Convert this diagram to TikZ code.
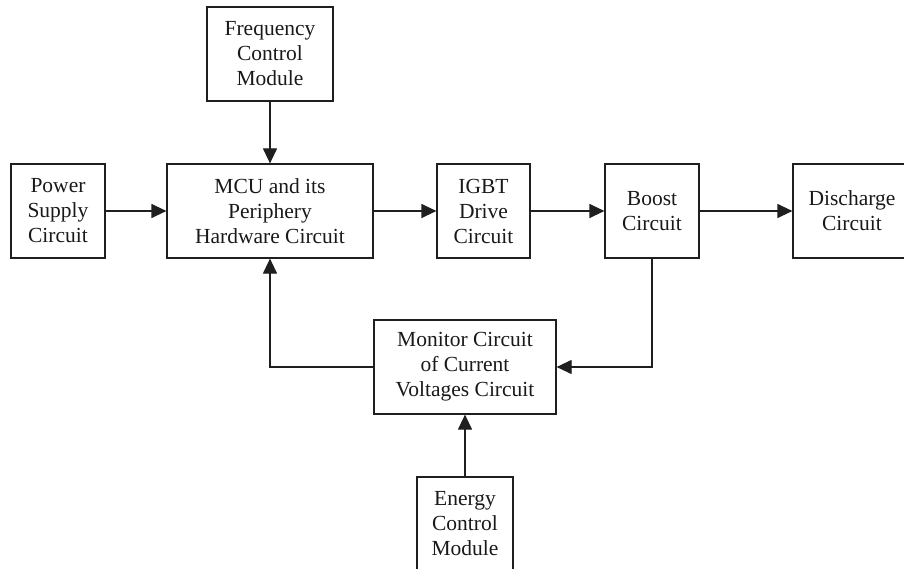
\documentclass[tikz,border=0pt]{standalone}
\usepackage{fontspec}
\setmainfont{Liberation Serif}
\usetikzlibrary{arrows.meta,positioning}
\begin{document}
\begin{tikzpicture}[x=1pt,y=-1pt,
  blk/.style={draw=black!88,line width=1.2pt,align=center,inner sep=0pt,
    font=\fontsize{21.5}{25}\selectfont,text=black!90},
  conn/.style={draw=black!88,line width=1.2pt,-{Triangle[length=15pt,width=14pt]}}]
\useasboundingbox (0,0) rectangle (904,569);
\clip (0,0) rectangle (904,569);
\node[blk,minimum width=126pt,minimum height=94pt] (freq) at (270,54) {Frequency\\Control\\Module};
\node[blk,minimum width=94pt,minimum height=94pt] (power) at (58,211) {Power\\Supply\\Circuit};
\node[blk,minimum width=206pt,minimum height=94pt] (mcu) at (270,211) {MCU and its\\Periphery\\Hardware Circuit};
\node[blk,minimum width=93pt,minimum height=94pt] (igbt) at (483.5,211) {IGBT\\Drive\\Circuit};
\node[blk,minimum width=94pt,minimum height=94pt] (boost) at (652,211) {Boost\\Circuit};
\node[blk,minimum width=118pt,minimum height=94pt] (dis) at (852,211) {Discharge\\Circuit};
\node[blk,minimum width=182pt,minimum height=94pt] (mon) at (465,367) {Monitor Circuit\\of Current\\Voltages Circuit};
\node[blk,minimum width=96pt,minimum height=94pt] (energy) at (465,524) {Energy\\Control\\Module};
\draw[conn] (freq) -- (mcu);
\draw[conn] (power) -- (mcu);
\draw[conn] (mcu) -- (igbt);
\draw[conn] (igbt) -- (boost);
\draw[conn] (boost) -- (dis);
\draw[conn] (boost.south) |- (mon.east);
\draw[conn] (mon.west) -| (mcu.south);
\draw[conn] (energy) -- (mon);
\end{tikzpicture}
\end{document}
